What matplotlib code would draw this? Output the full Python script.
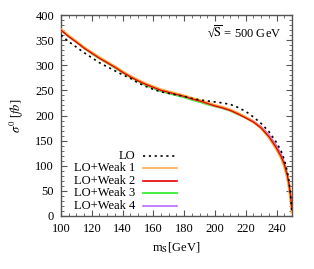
import matplotlib
matplotlib.use("Agg")
import matplotlib.pyplot as plt
from matplotlib.ticker import MultipleLocator

plt.rcParams['font.family'] = ['Liberation Serif', 'DejaVu Serif']
plt.rcParams['mathtext.fontset'] = 'stix'
plt.rcParams['font.size'] = 9

# scalar mass m_S [GeV]
m_s = [100, 105, 110, 115, 120, 125, 130, 135, 140, 145, 150, 155, 160, 165, 170,
       175, 180, 185, 190, 195, 200, 205, 210, 215, 220, 225, 230, 235, 240, 243,
       245, 247, 248, 249, 250]

lo = [360, 347, 336, 325, 315, 305, 297, 289, 281, 274, 265, 258, 252, 247, 244,
      241, 238, 234, 231, 229, 227, 225, 222, 216, 208, 197, 184, 168, 146, 129,
      112, 88, 70, 45, 5]

weak1 = [371, 358, 347, 335, 325, 315, 306, 297, 287, 278, 270, 263, 257, 251, 247,
         243, 239, 234, 230, 225, 220, 216, 211, 204, 196, 187, 175, 157, 133, 116,
         100, 77, 60, 38, 8]

weak2 = [370, 357, 346, 334, 324, 314, 305, 296, 286, 277, 269, 262, 256, 250, 246,
         242, 238, 233, 229, 224, 219, 215, 210, 203, 195, 187, 175, 158, 135, 118,
         103, 80, 64, 42, 12]

weak3 = [370, 357, 346, 334, 323, 313, 304, 295, 285, 276, 268, 260, 254, 248, 244,
         240, 236, 231, 227, 222, 218, 214, 209, 202, 195, 187, 176, 159, 137, 120,
         105, 83, 66, 45, 15]

weak4 = [370, 357, 346, 334, 324, 314, 305, 296, 286, 277, 269, 262, 256, 250, 246,
         242, 238, 233, 229, 224, 219, 215, 210, 204, 197, 189, 178, 162, 140, 123,
         107, 84, 68, 46, 16]

fig = plt.figure(figsize=(3.14, 2.69), dpi=100)
ax = fig.add_axes([61 / 314, 1 - 216 / 269, 231 / 314, 201 / 269])

ax.plot(m_s, weak3, color='#33ee33', lw=1.3, zorder=2)
ax.plot(m_s, weak4, color='#b060ff', lw=1.0, zorder=2)
ax.plot(m_s, weak1, color='#ffa533', lw=2.0, zorder=3)
ax.plot(m_s, weak2, color='#e00000', lw=0.9, zorder=4)
ax.plot(m_s, lo, color='black', lw=1.2, ls=(0, (1.3, 2.2)), zorder=5)

ax.set_xlim(100, 250)
ax.set_ylim(0, 400)
ax.xaxis.set_major_locator(MultipleLocator(20))
ax.xaxis.set_minor_locator(MultipleLocator(5))
ax.yaxis.set_major_locator(MultipleLocator(50))
ax.yaxis.set_minor_locator(MultipleLocator(10))
ax.tick_params(which='both', direction='in', top=True, right=True, color='#555555')
ax.tick_params(which='major', length=4, width=0.8, labelsize=9, pad=5)
ax.tick_params(which='minor', length=2, width=0.6)
for sp in ax.spines.values():
    sp.set_color('#555555')
    sp.set_linewidth(1.0)

ax.set_xlabel(r'm$_{\rm S}$[GeV]', fontsize=9, labelpad=4)
ax.set_ylabel(r'$\sigma^0$ [$fb$]', fontsize=9, labelpad=7)

ax.text(0.955, 0.915, '√' + r'$\overline{\rm S}$' + ' = 500 GeV', transform=ax.transAxes,
        ha='right', va='center', fontsize=9)

# legend: label on the left, sample line on the right
names = ['LO', 'LO+Weak 1', 'LO+Weak 2', 'LO+Weak 3', 'LO+Weak 4']
styles = [dict(color='black', lw=1.2, ls=(0, (1.3, 2.2))),
          dict(color='#ffa533', lw=1.1),
          dict(color='#e80000', lw=1.2),
          dict(color='#33ee33', lw=1.3),
          dict(color='#b060ff', lw=1.1)]
for i, (name, st) in enumerate(zip(names, styles)):
    yy = 0.3 - i * 0.062
    ax.text(0.32, yy, name, transform=ax.transAxes, ha='right', va='center', fontsize=9)
    ax.plot([0.355, 0.5], [yy, yy], transform=ax.transAxes, **st)

fig.savefig('out.png', dpi=100)
